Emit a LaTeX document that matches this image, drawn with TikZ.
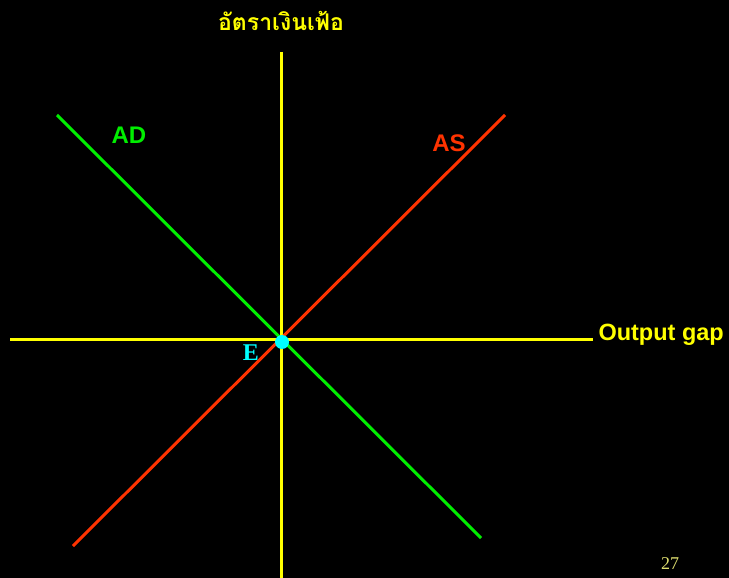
\documentclass[tikz,border=0pt]{standalone}
\usepackage{fontspec}
\setmainfont{Liberation Serif}
\setsansfont{Liberation Sans}
\newfontfamily\thaifont[Script=Thai]{Loma}
\usepackage{xcolor}
\usepackage{tikz}

\definecolor{axisyellow}{HTML}{FFFF00}
\definecolor{adgreen}{HTML}{00EE00}
\definecolor{asred}{HTML}{FF3300}
\definecolor{eqcyan}{HTML}{00FFFF}
\definecolor{pagenum}{HTML}{E0E070}

\begin{document}
\begin{tikzpicture}[x=1pt, y=-1pt, line width=3pt]
    \fill[black] (0,0) rectangle (729,578);
    \useasboundingbox (0,0) rectangle (729,578);

    % axis end points
    \coordinate (ytop) at (281,52);
    \coordinate (ybot) at (281,578);
    \coordinate (xleft) at (10,339);
    \coordinate (xright) at (593,339);
    % curve end points
    \coordinate (adtop) at (57,115);
    \coordinate (adbot) at (481,538);
    \coordinate (asbot) at (73,546);
    \coordinate (astop) at (505,115);

    \draw[axisyellow] (ytop) -- (ybot);
    \draw[axisyellow] (xleft) -- (xright);
    \draw[adgreen] (adtop) -- (adbot);
    \draw[asred] (asbot) -- (astop);

    \node (eq) [circle, fill=eqcyan, inner sep=0pt, minimum size=14pt] at (282,342) {};

    \node (ylabel) [text=axisyellow, font=\thaifont\bfseries\fontsize{23}{27}\selectfont] at (281,21) {อัตราเงินเฟ้อ};
    \node (xlabel) [text=axisyellow, anchor=west, inner sep=0pt, font=\sffamily\bfseries\fontsize{23.5}{28}\selectfont] at (597,335) {Output gap};
    \node (ad) [text=adgreen, font=\sffamily\bfseries\fontsize{24}{28}\selectfont] at (129,135) {AD};
    \node (as) [text=asred, font=\sffamily\bfseries\fontsize{24}{28}\selectfont] at (449,143) {AS};
    \node (elabel) [text=eqcyan, font=\bfseries\fontsize{24}{28}\selectfont] at (251,353) {E};
    \node (page) [text=pagenum, font=\fontsize{18}{22}\selectfont] at (670,564) {27};
\end{tikzpicture}
\end{document}
